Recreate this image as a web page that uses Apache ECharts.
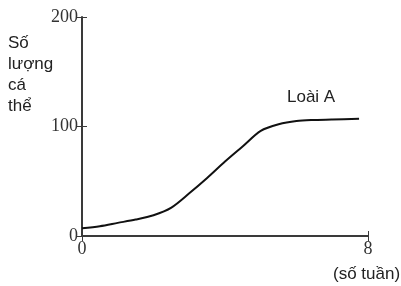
<!DOCTYPE html>
<html lang="vi">
<head>
  <meta charset="UTF-8">
  <title>Loài A</title>
  <style type="text/css">
    html, body { margin: 0; padding: 0; background: #fff; }
    #mainChart { width: 401px; height: 286px; }
  </style>
</head>
<body>
  <div id="mainChart"></div>
  <script type="text/javascript" src="https://cdn.jsdelivr.net/npm/echarts@6/dist/echarts.min.js"></script>
  <script type="text/javascript">
    // số liệu
    var weeks  = [0, 0.5, 1, 1.5, 2, 2.5, 3, 3.5, 4, 4.5, 5, 5.5, 6, 6.5, 7, 7.75];
    var counts = [7, 9, 12, 15, 19, 26, 39, 53, 68, 82, 96, 102, 105, 106, 106.5, 107];
    var yTicks = [0, 100, 200];
    var xTicks = [0, 8];
    var seriesName = 'Loài A';

    var points = [];
    for (var i = 0; i < weeks.length; i++) {
      points.push([weeks[i], counts[i]]);
    }

    var axisColor = '#3a3a3a';
    var serif = '"Liberation Serif", "DejaVu Serif", serif';
    var sans = '"Liberation Sans", Arial, sans-serif';

    var myChart = echarts.init(document.getElementById('mainChart'));
    var option = {
      animation: false,
      grid: { left: 82, top: 17, right: 33, bottom: 50 },
      xAxis: [{
        type: 'value', min: xTicks[0], max: xTicks[1], interval: 8,
        axisLine: { lineStyle: { color: axisColor, width: 2 } },
        axisTick: { show: true, length: 5, lineStyle: { color: axisColor, width: 1 } },
        axisLabel: { color: '#333', fontFamily: serif, fontSize: 18, margin: 4 },
        splitLine: { show: false }
      }, {
        type: 'value', min: xTicks[0], max: xTicks[1], interval: 8, position: 'bottom',
        axisLine: { show: false },
        axisTick: { show: true, inside: true, length: 5, lineStyle: { color: axisColor, width: 1 } },
        axisLabel: { show: false }, splitLine: { show: false }
      }],
      yAxis: [{
        type: 'value', min: yTicks[0], max: yTicks[2], interval: 100,
        axisLine: { show: true, lineStyle: { color: axisColor, width: 2 } },
        axisTick: { show: true, length: 5, lineStyle: { color: axisColor, width: 1 } },
        axisLabel: { color: '#333', fontFamily: serif, fontSize: 18, margin: 4 },
        splitLine: { show: false }
      }, {
        type: 'value', min: yTicks[0], max: yTicks[2], interval: 100, position: 'left',
        axisLine: { show: false },
        axisTick: { show: true, inside: true, length: 5, lineStyle: { color: axisColor, width: 1 } },
        axisLabel: { show: false }, splitLine: { show: false }
      }],
      graphic: [
        { type: 'text', left: 8, top: 33,
          style: { text: 'Số\nlượng\ncá\nthể', font: '17px ' + sans, fill: '#222', lineHeight: 21 } },
        { type: 'text', left: 333, top: 266,
          style: { text: '(số tuần)', font: '17px ' + sans, fill: '#222' } },
        { type: 'text', left: 287, top: 89,
          style: { text: seriesName, font: '17px ' + sans, fill: '#222' } }
      ],
      series: [{
        name: seriesName,
        type: 'line',
        smooth: 0.3,
        showSymbol: false,
        data: points,
        lineStyle: { color: '#111', width: 2 }
      }]
    };
    myChart.setOption(option);
  </script>
</body>
</html>
